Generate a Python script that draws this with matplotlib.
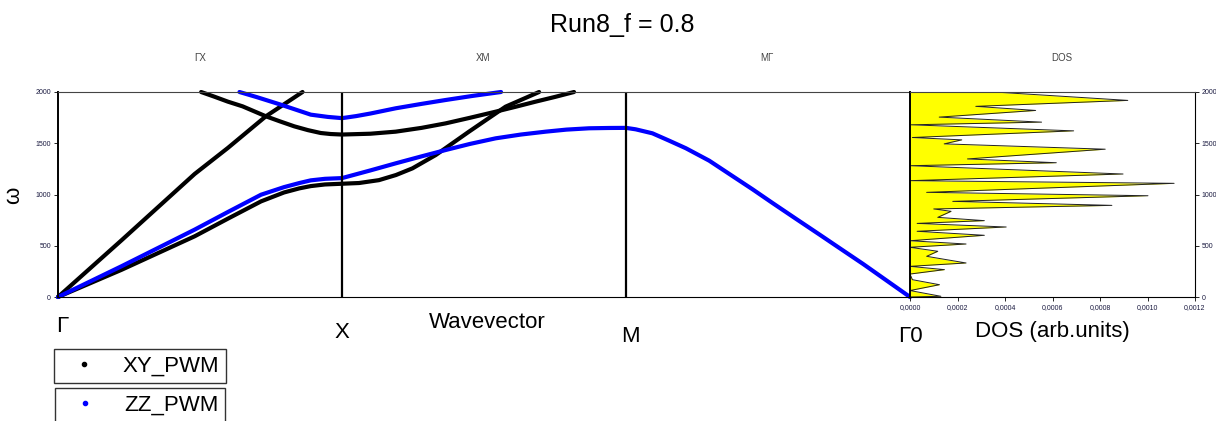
import matplotlib.pyplot as plt
from matplotlib.lines import Line2D
from matplotlib.ticker import FuncFormatter, MultipleLocator

plt.rcParams['font.family'] = ['Liberation Sans', 'DejaVu Sans']

# path coordinate: Gamma = 0, X = 1, M = 2, Gamma = 3
xy_lo_k = [0, 0.2235, 0.481, 0.598, 0.715, 0.796, 0.85, 0.89, 0.94, 1.0, 1.06, 1.13, 1.19,
           1.248, 1.33, 1.447, 1.576, 1.694]
xy_lo_w = [0, 265, 592, 764, 933, 1020, 1060, 1082, 1098, 1105, 1112, 1140, 1190,
           1255, 1385, 1613, 1857, 2000]

xy_steep_k = [0, 0.2235, 0.481, 0.598, 0.732, 0.861]
xy_steep_w = [0, 553, 1200, 1454, 1763, 2000]

xy_up_k = [0.504, 0.55, 0.598, 0.65, 0.732, 0.78, 0.832, 0.88, 0.925, 0.96, 1.0, 1.1, 1.189,
           1.28, 1.365, 1.45, 1.541, 1.61, 1.682, 1.75, 1.817]
xy_up_w = [2000, 1955, 1906, 1860, 1763, 1715, 1665, 1628, 1600, 1590, 1585, 1593, 1613,
           1650, 1694, 1748, 1808, 1855, 1906, 1952, 2000]

zz_lo_k = [0, 0.2235, 0.481, 0.598, 0.715, 0.796, 0.85, 0.89, 0.94, 1.0, 1.1, 1.189, 1.28,
           1.365, 1.45, 1.541, 1.63, 1.717, 1.79, 1.87, 1.94, 2.0,
           2.034, 2.093, 2.152, 2.211, 2.293, 2.364, 2.446, 2.517, 2.6, 2.682, 2.753, 2.835,
           2.918, 3.0]
zz_lo_w = [0, 300, 657, 829, 998, 1072, 1112, 1138, 1153, 1160, 1235, 1304, 1372,
           1434, 1493, 1548, 1585, 1613, 1633, 1646, 1649, 1650,
           1636, 1597, 1525, 1451, 1330, 1200, 1050, 915, 760, 608, 475, 322,
           160, 0]

zz_up_k = [0.639, 0.7, 0.785, 0.89, 0.95, 1.0, 1.05, 1.1, 1.189, 1.28, 1.365, 1.46, 1.56]
zz_up_w = [2000, 1950, 1876, 1779, 1757, 1745, 1765, 1790, 1841, 1884, 1922, 1962, 2000]

# density of states, omega vs arbitrary units
dos_w = [0, 7, 63, 120, 169, 224, 267, 299, 332, 397, 446, 485, 517, 549, 602, 641, 683, 718, 745,
         777, 836, 859, 894, 933, 988, 1021, 1109, 1135, 1200, 1281, 1310, 1347, 1442, 1494, 1533,
         1556, 1621, 1680, 1706, 1755, 1820, 1860, 1918, 2000]
dos_v = [0, 0.000130, 0, 0.000124, 0.000010, 0, 0.000145, 0, 0.000236, 0.000070, 0.000117, 0,
         0.000236, 0, 0.000313, 0.000030, 0.000405, 0.000030, 0.000313, 0.000117, 0.000173,
         0.000100, 0.000850, 0.000180, 0.001002, 0.000070, 0.001112, 0, 0.000897, 0, 0.000616,
         0.000242, 0.000822, 0.000144, 0.000218, 0.000010, 0.000689, 0.000004, 0.000554,
         0.000123, 0.000529, 0.000277, 0.000917, 0.000354]

W, H = 1216, 421
fig = plt.figure(figsize=(W / 100, H / 100), dpi=100)

def box(x0, x1, y0, y1):
    return [x0 / W, 1 - y1 / H, (x1 - x0) / W, (y1 - y0) / H]

ax = fig.add_axes(box(58, 910, 92, 297))
ax_dos = fig.add_axes(box(910, 1195, 92, 297))

style = dict(lw=3.0, clip_on=False, solid_capstyle='round', solid_joinstyle='round')
ax.plot(xy_lo_k, xy_lo_w, color='black', **style)
ax.plot(xy_steep_k, xy_steep_w, color='black', **style)
ax.plot(xy_up_k, xy_up_w, color='black', **style)
ax.plot(zz_lo_k, zz_lo_w, color='#0000ff', **style)
ax.plot(zz_up_k, zz_up_w, color='#0000ff', **style)

ax.set_xlim(0, 3)
ax.set_ylim(0, 2000)
ax.axvline(1, color='black', lw=1.6)
ax.axvline(2, color='black', lw=1.6)
ax.set_xticks([])
ax.yaxis.set_major_locator(MultipleLocator(500))
ax.tick_params(axis='y', labelsize=5, length=3, width=0.6, pad=2, labelcolor='#1a1a40')
for s in ['top', 'bottom']:
    ax.spines[s].set_linewidth(0.8)
ax.spines['top'].set_color('#444444')
ax.spines['left'].set_linewidth(1.4)
ax.spines['right'].set_visible(False)

ax_dos.fill_betweenx(dos_w, 0, dos_v, color='#ffff00', lw=0)
ax_dos.plot(dos_v, dos_w, color='#222222', lw=0.7)
ax_dos.set_xlim(0, 0.0012)
ax_dos.set_ylim(0, 2000)
ax_dos.xaxis.set_major_locator(MultipleLocator(0.0002))
ax_dos.xaxis.set_major_formatter(FuncFormatter(lambda v, p: f"{v:.4f}".replace('.', ',')))
ax_dos.yaxis.set_major_locator(MultipleLocator(500))
ax_dos.yaxis.tick_right()
ax_dos.tick_params(labelsize=5, length=3, width=0.6, pad=2, labelcolor='#1a1a40')
ax_dos.spines['left'].set_linewidth(1.4)
ax_dos.spines['top'].set_linewidth(0.8)
ax_dos.spines['top'].set_color('#444444')
ax_dos.spines['right'].set_linewidth(0.8)
ax_dos.spines['bottom'].set_linewidth(0.8)

fig.text(622 / W, 1 - 25 / H, 'Run8_f = 0.8', fontsize=18, ha='center', va='center')
for label, x in [('ΓX', 200), ('XM', 483), ('MΓ', 767), ('DOS', 1062)]:
    fig.text(x / W, 1 - 58 / H, label, fontsize=7, color='#444444', ha='center', va='center')

for label, x, y in [('Γ', 62, 327), ('X', 342, 333), ('Wavevector', 487, 322), ('M', 630, 337),
                    ('Γ0', 910, 337), ('DOS (arb.units)', 1052, 331)]:
    fig.text(x / W, 1 - y / H, label, fontsize=16, ha='center', va='center')
fig.text(14 / W, 1 - 195 / H, 'ω', fontsize=16, rotation=90, ha='center', va='center')

# one framed legend entry per polarisation
for name, color, x, y in [('XY_PWM', 'black', 54, 349), ('ZZ_PWM', '#0000ff', 55, 388)]:
    h = Line2D([], [], ls='none', marker='o', ms=3, color=color)
    leg = fig.legend([h], [name], loc='upper left', bbox_to_anchor=(x / W, 1 - y / H),
                     fontsize=16, frameon=True, fancybox=False, edgecolor='black',
                     borderpad=0.3, handlelength=2.1, handletextpad=0.7, borderaxespad=0)
    leg.get_frame().set_linewidth(1.0)

fig.savefig('out.png', dpi=100)
